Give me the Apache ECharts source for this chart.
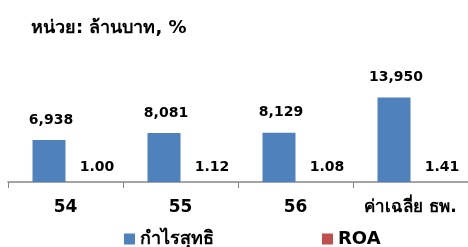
<!DOCTYPE html>
<html>
<head>
<meta charset="utf-8">
<script src="https://cdn.jsdelivr.net/npm/echarts@6/dist/echarts.min.js"></script>
<style>
  html, body { margin: 0; padding: 0; background: #fff; }
  #chart { width: 468px; height: 247px; }
</style>
</head>
<body>
<div id="chart"></div>
<script>
// ข้อมูล
const categories = ["54", "55", "56", "ค่าเฉลี่ย ธพ."];
const netProfit = [6938, 8081, 8129, 13950];
const roa = [1.00, 1.12, 1.08, 1.41];

const fontFamily = "Tahoma, 'DejaVu Sans', 'Noto Sans', sans-serif";

const chart = echarts.init(document.getElementById("chart"));

const option = {
  animation: false,
  title: {
    text: "หน่วย: ล้านบาท, %",
    left: 26,
    top: 14,
    textStyle: { fontFamily: fontFamily, fontSize: 18, fontWeight: "bold", color: "#000" },
  },
  legend: {
    data: ["กำไรสุทธิ", "ROA"],
    left: 119,
    top: 225,
    icon: "rect",
    itemWidth: 11,
    itemHeight: 11,
    itemGap: 108,
    itemStyle: { borderWidth: 0 },
    textStyle: { fontFamily: fontFamily, fontSize: 18, fontWeight: "bold", color: "#000" },
  },
  grid: {
    left: 8,
    width: 464,
    top: 61,
    bottom: 65,
  },
  xAxis: {
    type: "category",
    data: categories,
    axisLine: { lineStyle: { color: "#868686", width: 1.5 } },
    axisTick: { show: true, length: 6, lineStyle: { color: "#868686" } },
    axisLabel: {
      interval: 0,
      margin: 17,
      color: "#000",
      fontFamily: fontFamily,
      fontSize: 17,
      fontWeight: "bold",
    },
  },
  yAxis: {
    type: "value",
    min: 0,
    max: 20000,
    show: false,
    splitLine: { show: false },
  },
  series: [
    {
      name: "กำไรสุทธิ",
      type: "bar",
      data: netProfit,
      barWidth: 33,
      barGap: "0%",
      itemStyle: { color: "#4F81BD" },
      label: {
        show: true,
        position: "top",
        offset: [2, -8],
        color: "#000",
        fontFamily: fontFamily,
        fontSize: 14,
        fontWeight: "bold",
        formatter: (p) => p.value.toLocaleString("en-US"),
      },
    },
    {
      name: "ROA",
      type: "bar",
      data: roa,
      barWidth: 33,
      itemStyle: { color: "#C0504D" },
      label: {
        show: true,
        position: "top",
        offset: [15, -3],
        color: "#000",
        fontFamily: fontFamily,
        fontSize: 14,
        fontWeight: "bold",
        formatter: (p) => p.value.toFixed(2),
      },
    },
  ],
};

chart.setOption(option);
</script>
</body>
</html>
